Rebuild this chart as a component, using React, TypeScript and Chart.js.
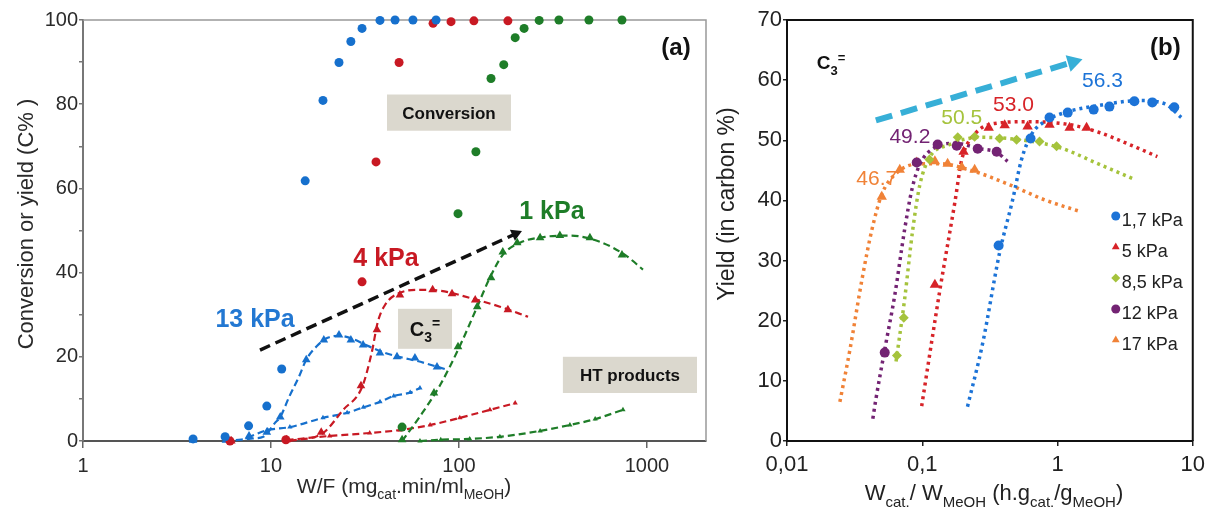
import React, { useEffect, useRef } from 'react';
import { Chart, registerables } from 'chart.js';
import { drawPoint } from 'chart.js/helpers';
Chart.register(...registerables);

const FONT = '"Liberation Sans", Arial, Helvetica, sans-serif';

// ---------------- Panel (a) data ----------------
const xTicksA = [1, 10, 100, 1000];
// conversion (circles)
const convX13 = [3.85, 5.7, 7.6, 9.5, 11.4, 15.2, 18.9, 23, 26.6, 30.5, 38, 45.7, 56.9, 75.5];
const convY13 = [0.5, 1, 3.6, 8.3, 17.1, 61.8, 80.9, 89.9, 94.9, 98, 99.9, 100, 100, 100];
const convX4 = [6.05, 12.0, 30.5, 36.2, 48, 72.8, 90.7, 120, 182];
const convY4 = [0, 0.3, 37.8, 66.3, 89.9, 99.2, 99.6, 99.8, 99.8];
const convX1 = [49.8, 98.8, 123, 148, 173, 199, 222, 267, 340, 491, 736];
const convY1 = [3.3, 54.0, 68.7, 86.1, 89.4, 95.8, 98, 99.9, 100, 100, 100];
// C3= yield (triangles)
const c3X13 = [3.85, 5.76, 7.64, 9.5, 11.2, 15.4, 19.1, 23, 26.6, 30.9, 38, 46.8, 58.3, 76.4];
const c3Y13 = [0.2, 0.2, 1.2, 2.1, 5.7, 19.3, 24, 25.2, 24, 22.8, 20.9, 20, 19.7, 17.6];
const c3X4 = [6.15, 12.1, 18.5, 30.1, 36.6, 48.5, 72.4, 91.8, 122, 182];
const c3Y4 = [0, 0.3, 2.1, 13.1, 26.4, 34.7, 35.9, 35, 33.5, 31.2];
const c3X1 = [49.8, 73.6, 98.8, 125, 148, 171, 204, 270, 344, 497, 736];
const c3Y1 = [0.3, 11.4, 22.4, 31.9, 38.8, 44.9, 47.1, 48.3, 48.8, 48.3, 44.2];
// C3= fitted curves (dashed)
const c3FitX13 = [6.5, 8, 9.1, 10.5, 11.2, 12.5, 14, 15.4, 17.5, 20, 23, 27, 32, 40, 50, 60, 84];
const c3FitY13 = [0.2, 0.6, 1, 4.3, 5.7, 10.5, 15, 19.3, 22.5, 24.5, 25, 24.3, 22.8, 21, 19.8, 19, 17.1];
const c3FitX4 = [12.6, 18.9, 24.2, 30.5, 34.3, 37.0, 40.4, 48.5, 62.1, 79.4, 114, 165, 233];
const c3FitY4 = [0, 1.9, 7.4, 12.8, 20.9, 28.3, 32.3, 35.2, 35.9, 35.7, 34, 31.9, 29.5];
const c3FitX1 = [49.8, 62.1, 79.4, 101.6, 125, 146, 171, 211, 287, 389, 562, 764, 952];
const c3FitY1 = [0, 5.9, 13.3, 22.8, 31.9, 38.8, 44.2, 47.1, 48.5, 48.8, 47.3, 44.2, 40.7];
// HT products (dashed with small markers)
const htX13 = [7.5, 9.6, 12.6, 18.9, 25.4, 31, 38, 45, 55, 62];
const htY13 = [0.8, 2.6, 3.3, 5.5, 6.7, 8, 9.3, 10.7, 11.5, 12.6];
const htX4 = [12.1, 20.5, 33.5, 48.5, 70.2, 101, 146, 199];
const htY4 = [0.2, 1.2, 1.9, 2.6, 3.8, 5.5, 7.4, 9.0];
const htX1 = [62, 80, 114, 165, 270, 389, 530, 745];
const htY1 = [0, 0.3, 0.5, 1, 2.4, 3.8, 5.2, 7.4];
// trend arrow
const arrowXA = [8.74, 200];
const arrowYA = [21.6, 49.2];

// ---------------- Panel (b) data ----------------
const xTicksB = [0.01, 0.1, 1, 10];
const xTickLabelsB = ['0,01', '0,1', '1', '10'];
const seriesNamesB = ['1,7 kPa', '5 kPa', '8,5 kPa', '12 kPa', '17 kPa'];
const b17X = [0.367, 0.632, 0.873, 1.19, 1.85, 2.42, 3.70, 5.02, 7.30];
const b17Y = [32.5, 50.3, 53.8, 54.6, 55.1, 55.6, 56.5, 56.3, 55.5];
const b17FitX = [0.216, 0.28, 0.373, 0.466, 0.542, 0.643, 0.802, 1.13, 2.04, 4.03, 6.17, 8.22];
const b17FitY = [5.7, 16.3, 31.3, 40.1, 46.8, 51, 53.1, 54.6, 55.8, 56.6, 56.1, 53.8];
const b5X = [0.124, 0.202, 0.310, 0.407, 0.601, 0.873, 1.23, 1.64];
const b5Y = [26, 48.1, 52.1, 52.5, 52.3, 52.6, 52.1, 52.1];
const b5FitX = [0.099, 0.135, 0.174, 0.196, 0.244, 0.343, 0.62, 1.23, 2.04, 3.40, 5.47];
const b5FitY = [5.8, 25.1, 39.6, 46.8, 51, 52.8, 53.1, 52.6, 51.3, 49.3, 47.3];
const b85X = [0.065, 0.073, 0.113, 0.183, 0.244, 0.373, 0.498, 0.736, 0.984];
const b85Y = [14.2, 20.5, 46.8, 50.5, 50.6, 50.3, 50.1, 49.8, 49.0];
const b85FitX = [0.064, 0.074, 0.085, 0.096, 0.113, 0.160, 0.266, 0.52, 1.03, 2.04, 3.70];
const b85FitY = [13.2, 23.5, 35.1, 42.6, 47.1, 49.3, 50.5, 50.1, 48.8, 46, 43.5];
const b12X = [0.0528, 0.091, 0.130, 0.18, 0.257, 0.355];
const b12Y = [14.7, 46.3, 49.3, 49.1, 48.6, 48.1];
const b12FitX = [0.0431, 0.0453, 0.0528, 0.0627, 0.074, 0.0838, 0.096, 0.124, 0.174, 0.266, 0.355, 0.427];
const b12FitY = [3.7, 6.8, 15.2, 24.3, 35.1, 41.8, 46, 48.8, 49.5, 48.6, 48, 46.5];
const b170X = [0.0502, 0.0682, 0.091, 0.124, 0.154, 0.196, 0.244];
const b170Y = [40.6, 45.1, 46.3, 46.5, 46.1, 45.5, 45.1];
const b170FitX = [0.0246, 0.0292, 0.0358, 0.0424, 0.0502, 0.0627, 0.088, 0.135, 0.244, 0.443, 0.802, 1.50];
const b170FitY = [6.5, 15.2, 26.8, 35.1, 41, 44.3, 46, 46.1, 44.8, 42.6, 40.1, 38.1];
const arrowXB = [0.0454, 1.3];
const arrowYB = [53.3, 63.0];
const peakLabelsB = ['56.3', '53.0', '50.5', '49.2', '46.7'];

// ---------------- colours ----------------
const BLUE_A = 'rgb(22,112,205)';
const RED_A = 'rgb(200,25,35)';
const GREEN_A = 'rgb(30,125,40)';
const BOX_BG = 'rgb(219,216,206)';
const BLUE_B = 'rgb(28,115,215)';
const RED_B = 'rgb(215,35,40)';
const YG_B = 'rgb(165,195,60)';
const PURPLE_B = 'rgb(115,35,115)';
const ORANGE_B = 'rgb(240,130,55)';
const CYAN_B = 'rgb(55,175,215)';

type Seg = { t: string; s?: 'sub' | 'sup' };

const zip = (xs: number[], ys: number[]) => xs.map((x, i) => ({ x, y: ys[i] }));

function pointsDs(xs: number[], ys: number[], color: string, style: string, r: number) {
  return {
    data: zip(xs, ys), showLine: false, pointStyle: style, pointRadius: r, pointHoverRadius: r,
    pointBackgroundColor: color, pointBorderColor: color, pointBorderWidth: 0,
    backgroundColor: color, borderColor: color, clip: false,
  };
}
function lineDs(xs: number[], ys: number[], color: string, width: number, dash: number[], markerStyle = 'circle', markerR = 0) {
  return {
    data: zip(xs, ys), showLine: true, borderColor: color, backgroundColor: color, borderWidth: width,
    borderDash: dash, borderCapStyle: 'butt', tension: 0.4, cubicInterpolationMode: 'monotone',
    pointStyle: markerStyle, pointRadius: markerR, pointHoverRadius: markerR,
    pointBackgroundColor: color, pointBorderColor: color, pointBorderWidth: 0, fill: false, clip: false,
  };
}
const arrowRotation = (ctx: any) => {
  const ch = ctx.chart;
  const d = ch.data.datasets[ctx.datasetIndex].data;
  const xs = ch.scales.x, ys = ch.scales.y;
  const dx = xs.getPixelForValue(d[d.length - 1].x) - xs.getPixelForValue(d[0].x);
  const dy = ys.getPixelForValue(d[d.length - 1].y) - ys.getPixelForValue(d[0].y);
  return (Math.atan2(dy, dx) * 180) / Math.PI + 90;
};
function arrowDs(xs: number[], ys: number[], color: string, width: number, dash: number[], head: number) {
  return {
    ...lineDs(xs, ys, color, width, dash),
    tension: 0, cubicInterpolationMode: 'default', pointStyle: 'triangle',
    pointRadius: [0, head], pointRotation: arrowRotation,
  };
}

function drawRich(ctx: CanvasRenderingContext2D, segs: Seg[], x: number, baseline: number, size: number, weight: string, color: string, align: 'center' | 'left' = 'center') {
  const small = Math.round(size * 0.68);
  const fMain = `${weight} ${size}px ${FONT}`;
  const fSmall = `${weight} ${small}px ${FONT}`;
  let total = 0;
  const widths = segs.map((sg) => {
    ctx.font = sg.s ? fSmall : fMain;
    const w = ctx.measureText(sg.t).width;
    total += w;
    return w;
  });
  let cx = align === 'center' ? x - total / 2 : x;
  ctx.fillStyle = color;
  ctx.textAlign = 'left';
  ctx.textBaseline = 'alphabetic';
  segs.forEach((sg, i) => {
    ctx.font = sg.s ? fSmall : fMain;
    const dy = sg.s === 'sub' ? size * 0.3 : sg.s === 'sup' ? -size * 0.38 : 0;
    ctx.fillText(sg.t, cx, baseline + dy);
    cx += widths[i];
  });
}

type TextItem = { x: number; y: number; segs: Seg[]; size: number; weight: string; color: string; align?: 'center' | 'left' };
type BoxItem = { x1: number; x2: number; y1: number; y2: number; segs: Seg[]; size: number };
type TitleCfg = { yTitle: string; yX: number; yY: number; ySize: number; xSegs: Seg[]; xX: number; xBase: number; xSize: number; color: string };

function decorPlugin(frameColor: string, frameWidth: number, boxes: BoxItem[], texts: TextItem[], titles: TitleCfg, legend?: { names: string[]; dsIdx: number[]; dx: number; dy: number; step: number }) {
  return {
    id: 'decor',
    beforeDatasetsDraw(chart: any) {
      const ctx = chart.ctx as CanvasRenderingContext2D;
      const { left, top, right, bottom } = chart.chartArea;
      ctx.save();
      ctx.strokeStyle = frameColor;
      ctx.lineWidth = frameWidth;
      ctx.beginPath();
      ctx.moveTo(left, top);
      ctx.lineTo(right, top);
      ctx.lineTo(right, bottom);
      ctx.stroke();
      const xs = chart.scales.x, ys = chart.scales.y;
      boxes.forEach((b) => {
        const px1 = xs.getPixelForValue(b.x1), px2 = xs.getPixelForValue(b.x2);
        const py1 = ys.getPixelForValue(b.y1), py2 = ys.getPixelForValue(b.y2);
        ctx.fillStyle = BOX_BG;
        ctx.fillRect(px1, py1, px2 - px1, py2 - py1);
        drawRich(ctx, b.segs, (px1 + px2) / 2, (py1 + py2) / 2 + b.size * 0.36, b.size, 'bold', '#111');
      });
      ctx.restore();
    },
    afterDatasetsDraw(chart: any) {
      const ctx = chart.ctx as CanvasRenderingContext2D;
      const xs = chart.scales.x, ys = chart.scales.y;
      ctx.save();
      texts.forEach((t) => {
        drawRich(ctx, t.segs, xs.getPixelForValue(t.x), ys.getPixelForValue(t.y) + t.size * 0.36, t.size, t.weight, t.color, t.align || 'center');
      });
      if (legend) {
        const { right, top } = chart.chartArea;
        legend.names.forEach((name, i) => {
          const ds = chart.data.datasets[legend.dsIdx[i]];
          const mx = right - legend.dx;
          const my = top + legend.dy + i * legend.step;
          ctx.fillStyle = ds.pointBackgroundColor;
          ctx.strokeStyle = ds.pointBackgroundColor;
          drawPoint(ctx, { pointStyle: ds.pointStyle, radius: 4.5, rotation: 0, borderWidth: 0 } as any, mx, my - 4);
          ctx.fillStyle = '#222';
          ctx.font = `18px ${FONT}`;
          ctx.textAlign = 'left';
          ctx.textBaseline = 'middle';
          ctx.fillText(name, mx + 6, my + 1);
        });
      }
      ctx.restore();
    },
    afterDraw(chart: any) {
      const ctx = chart.ctx as CanvasRenderingContext2D;
      ctx.save();
      ctx.translate(titles.yX, titles.yY);
      ctx.rotate(-Math.PI / 2);
      ctx.fillStyle = titles.color;
      ctx.font = `${titles.ySize}px ${FONT}`;
      ctx.textAlign = 'center';
      ctx.textBaseline = 'middle';
      ctx.fillText(titles.yTitle, 0, 0);
      ctx.restore();
      ctx.save();
      drawRich(ctx, titles.xSegs, titles.xX, titles.xBase, titles.xSize, 'normal', titles.color);
      ctx.restore();
    },
  };
}

function makeConfigA(): any {
  const datasets = [
    pointsDs(convX13, convY13, BLUE_A, 'circle', 4.5),
    pointsDs(convX4, convY4, RED_A, 'circle', 4.5),
    pointsDs(convX1, convY1, GREEN_A, 'circle', 4.5),
    pointsDs(c3X13, c3Y13, BLUE_A, 'triangle', 5),
    pointsDs(c3X4, c3Y4, RED_A, 'triangle', 5),
    pointsDs(c3X1, c3Y1, GREEN_A, 'triangle', 5),
    lineDs(c3FitX13, c3FitY13, BLUE_A, 2.2, [7, 4]),
    lineDs(c3FitX4, c3FitY4, RED_A, 2.2, [7, 4]),
    lineDs(c3FitX1, c3FitY1, GREEN_A, 2.2, [7, 4]),
    lineDs(htX13, htY13, BLUE_A, 2.2, [7, 4], 'triangle', 3),
    lineDs(htX4, htY4, RED_A, 2.2, [7, 4], 'triangle', 3),
    lineDs(htX1, htY1, GREEN_A, 2.2, [7, 4], 'triangle', 3),
    arrowDs(arrowXA, arrowYA, '#111', 3.5, [11, 6], 7),
  ];
  const boxes: BoxItem[] = [
    { x1: 41.4, x2: 189, y1: 82.3, y2: 73.7, segs: [{ t: 'Conversion' }], size: 17 },
    { x1: 47.4, x2: 91.8, y1: 31.4, y2: 21.9, segs: [{ t: 'C' }, { t: '3', s: 'sub' }, { t: '=', s: 'sup' }], size: 20 },
    { x1: 357, x2: 1845, y1: 20.0, y2: 11.4, segs: [{ t: 'HT products' }], size: 17 },
  ];
  const texts: TextItem[] = [
    { x: 8.22, y: 29.3, segs: [{ t: '13 kPa' }], size: 25, weight: 'bold', color: 'rgb(35,120,210)' },
    { x: 40.9, y: 43.8, segs: [{ t: '4 kPa' }], size: 25, weight: 'bold', color: RED_A },
    { x: 312, y: 54.9, segs: [{ t: '1 kPa' }], size: 25, weight: 'bold', color: GREEN_A },
    { x: 1426, y: 93.7, segs: [{ t: '(a)' }], size: 24, weight: 'bold', color: '#111' },
  ];
  const titles: TitleCfg = {
    yTitle: 'Conversion or yield (C% )', yX: 27, yY: 224, ySize: 22,
    xSegs: [{ t: 'W/F (mg' }, { t: 'cat', s: 'sub' }, { t: '.min/ml' }, { t: 'MeOH', s: 'sub' }, { t: ')' }],
    xX: 404, xBase: 493, xSize: 21, color: '#2a2a2a',
  };
  return {
    type: 'scatter',
    data: { datasets },
    options: {
      animation: false, responsive: false, devicePixelRatio: 1, events: [],
      layout: { padding: { top: 20, right: 9, left: 0, bottom: 0 } },
      plugins: { legend: { display: false }, tooltip: { enabled: false } },
      scales: {
        x: {
          type: 'logarithmic', min: 1, max: 2060, position: 'bottom',
          afterBuildTicks: (s: any) => { s.ticks = xTicksA.map((v) => ({ value: v })); },
          afterFit: (s: any) => { s.height = 68; },
          ticks: { font: { family: FONT, size: 20 }, color: '#2a2a2a', padding: 6, maxRotation: 0, autoSkip: false, callback: (v: any) => String(v) },
          grid: { display: true, drawOnChartArea: false, drawTicks: true, tickLength: 7, color: '#666', lineWidth: 1.5 },
          border: { display: true, color: '#555', width: 2 },
        },
        y: {
          type: 'linear', min: 0, max: 100,
          afterFit: (s: any) => { s.width = 83; },
          ticks: { stepSize: 10, font: { family: FONT, size: 20 }, color: '#2a2a2a', padding: 1, callback: (v: any) => (v % 20 === 0 ? String(v) : '') },
          grid: { display: true, drawOnChartArea: false, drawTicks: true, tickLength: 4, color: '#777', lineWidth: 1.5 },
          border: { display: true, color: '#777', width: 2 },
        },
      },
    },
    plugins: [decorPlugin('#999', 1.5, boxes, texts, titles)],
  };
}

function makeConfigB(): any {
  const datasets = [
    pointsDs(b17X, b17Y, BLUE_B, 'circle', 5),
    pointsDs(b5X, b5Y, RED_B, 'triangle', 6),
    pointsDs(b85X, b85Y, YG_B, 'rectRot', 5),
    pointsDs(b12X, b12Y, PURPLE_B, 'circle', 5),
    pointsDs(b170X, b170Y, ORANGE_B, 'triangle', 6),
    lineDs(b17FitX, b17FitY, BLUE_B, 3.5, [3, 4]),
    lineDs(b5FitX, b5FitY, RED_B, 3.5, [3, 4]),
    lineDs(b85FitX, b85FitY, YG_B, 3.5, [3, 4]),
    lineDs(b12FitX, b12FitY, PURPLE_B, 3.5, [3, 4]),
    lineDs(b170FitX, b170FitY, ORANGE_B, 3.5, [3, 4]),
    arrowDs(arrowXB, arrowYB, CYAN_B, 6, [17, 9], 10),
  ];
  const texts: TextItem[] = [
    { x: 2.15, y: 60.1, segs: [{ t: peakLabelsB[0] }], size: 21, weight: 'normal', color: BLUE_B },
    { x: 0.473, y: 56.1, segs: [{ t: peakLabelsB[1] }], size: 21, weight: 'normal', color: RED_B },
    { x: 0.196, y: 54.0, segs: [{ t: peakLabelsB[2] }], size: 21, weight: 'normal', color: YG_B },
    { x: 0.081, y: 50.8, segs: [{ t: peakLabelsB[3] }], size: 21, weight: 'normal', color: PURPLE_B },
    { x: 0.0461, y: 43.8, segs: [{ t: peakLabelsB[4] }], size: 21, weight: 'normal', color: ORANGE_B },
    { x: 0.0166, y: 63.0, segs: [{ t: 'C' }, { t: '3', s: 'sub' }, { t: '=', s: 'sup' }], size: 19, weight: 'bold', color: '#111', align: 'left' },
    { x: 6.27, y: 65.6, segs: [{ t: '(b)' }], size: 24, weight: 'bold', color: '#111' },
  ];
  const titles: TitleCfg = {
    yTitle: 'Yield (in carbon %)', yX: 13, yY: 204, ySize: 23,
    xSegs: [{ t: 'W' }, { t: 'cat.', s: 'sub' }, { t: '/ W' }, { t: 'MeOH', s: 'sub' }, { t: ' (h.g' }, { t: 'cat.', s: 'sub' }, { t: '/g' }, { t: 'MeOH', s: 'sub' }, { t: ')' }],
    xX: 279, xBase: 500, xSize: 22, color: '#222',
  };
  return {
    type: 'scatter',
    data: { datasets },
    options: {
      animation: false, responsive: false, devicePixelRatio: 1, events: [],
      layout: { padding: { top: 20, right: 18, left: 0, bottom: 0 } },
      plugins: { legend: { display: false }, tooltip: { enabled: false } },
      scales: {
        x: {
          type: 'logarithmic', min: 0.01, max: 10, position: 'bottom',
          afterBuildTicks: (s: any) => { s.ticks = xTicksB.map((v) => ({ value: v })); },
          afterFit: (s: any) => { s.height = 68; },
          ticks: { font: { family: FONT, size: 22 }, color: '#222', padding: 6, maxRotation: 0, autoSkip: false, callback: (_v: any, i: number) => xTickLabelsB[i] },
          grid: { display: true, drawOnChartArea: false, drawTicks: true, tickLength: 5, color: '#222', lineWidth: 1.5 },
          border: { display: true, color: '#111', width: 2 },
        },
        y: {
          type: 'linear', min: 0, max: 70,
          afterFit: (s: any) => { s.width = 72; },
          ticks: { stepSize: 10, font: { family: FONT, size: 22 }, color: '#222', padding: 1 },
          grid: { display: true, drawOnChartArea: false, drawTicks: true, tickLength: 4, color: '#222', lineWidth: 1.5 },
          border: { display: true, color: '#111', width: 2 },
        },
      },
    },
    plugins: [decorPlugin('#111', 2, [], texts, titles, { names: seriesNamesB, dsIdx: [0, 1, 2, 3, 4], dx: 77, dy: 200, step: 31 })],
  };
}

function ChartCanvas({ make, left, width, height }: { make: () => any; left: number; width: number; height: number }) {
  const ref = useRef<HTMLCanvasElement>(null);
  useEffect(() => {
    const chart = new Chart(ref.current as HTMLCanvasElement, make());
    return () => chart.destroy();
  }, [make]);
  return (
    <canvas ref={ref} width={width} height={height}
      style={{ position: 'absolute', left, top: 0, width, height, display: 'block' }} />
  );
}

export default function App() {
  return (
    <div style={{ position: 'fixed', left: 0, top: 0, width: 1211, height: 509, background: '#fff', overflow: 'hidden' }}>
      <ChartCanvas make={makeConfigA} left={0} width={715} height={509} />
      <ChartCanvas make={makeConfigB} left={715} width={496} height={509} />
    </div>
  );
}
